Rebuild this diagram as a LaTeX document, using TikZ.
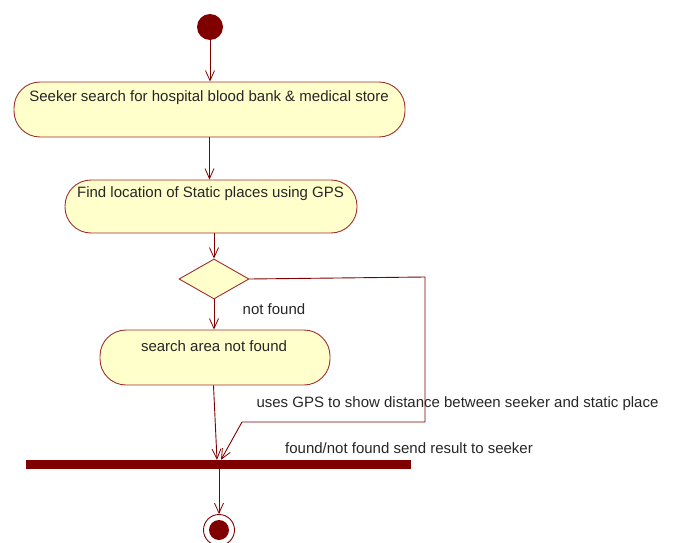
\documentclass[tikz,border=0pt]{standalone}
\usepackage{fontspec}
\setmainfont{Liberation Sans}
\usetikzlibrary{shapes.geometric,arrows.meta}
\definecolor{umlred}{HTML}{800000}
\definecolor{umlborder}{HTML}{A03030}
\definecolor{umlfill}{HTML}{FFFFCC}
\tikzset{
  act/.style={draw=umlborder, fill=umlfill, rounded corners=26pt, line width=0.9pt, inner sep=0pt},
  txt/.style={font=\fontsize{15}{18}\selectfont, text=black!85, inner sep=0pt},
  flow/.style={draw=umlred, line width=0.9pt, -{Straight Barb[length=10pt,width=9pt,line width=0.8pt]}},
  wire/.style={draw=umlred, line width=0.9pt},
}
\begin{document}
\begin{tikzpicture}[x=1pt,y=-1pt]
\useasboundingbox (0,0) rectangle (675,543);
\node[circle, fill=umlred, minimum size=26pt, inner sep=0pt] (start) at (210,27) {};
\node[act, minimum width=391pt, minimum height=55pt] (a1) at (209.5,109.5) {};
\node[txt] (t1) at (209,98) {Seeker search for hospital blood bank \& medical store};
\node[act, minimum width=292pt, minimum height=53pt] (a2) at (211,206.5) {};
\node[txt] (t2) at (210.5,194) {Find location of Static places using GPS};
\node[diamond, draw=umlborder, fill=umlfill, line width=0.9pt, minimum width=70pt, minimum height=40pt, inner sep=0pt, aspect=1.75] (dec) at (214,279) {};
\node[txt] (nf) at (274,309) {not found};
\node[act, minimum width=230pt, minimum height=55pt] (a3) at (215,357.5) {};
\node[txt] (t3) at (214,346) {search area not found};
\node[rectangle, fill=umlred, minimum width=385pt, minimum height=9pt, inner sep=0pt] (bar) at (218.5,464.5) {};
\node[txt] (gps) at (457.5,404) {uses GPS to show distance between seeker and static place};
\node[txt] (res) at (409,448) {found/not found send result to seeker};
\node[circle, draw=umlred, line width=0.9pt, minimum size=31pt, inner sep=0pt] (end) at (219,530) {};
\node[circle, fill=umlred, minimum size=20pt, inner sep=0pt] (endin) at (219,530) {};
\coordinate (r1) at (425,277);
\coordinate (r2) at (425,422);
\coordinate (r3) at (242,422);
\draw[flow] (start) -- (start |- a1.north);
\draw[flow] (a1.south) -- (a1.south |- a2.north);
\draw[flow] (dec.north |- a2.south) -- (dec.north);
\draw[flow] (dec.south) -- (dec.south |- a3.north);
\draw[wire] (dec.east) -- (r1) -- (r2) -- (r3);
\draw[flow] (r3) -- ([xshift=2.5pt]bar.north);
\draw[flow] ([xshift=-1.5pt]a3.south) -- ([xshift=-1.5pt]bar.north);
\draw[flow] ([xshift=0.5pt]bar.south) -- (end.north);
\end{tikzpicture}
\end{document}
